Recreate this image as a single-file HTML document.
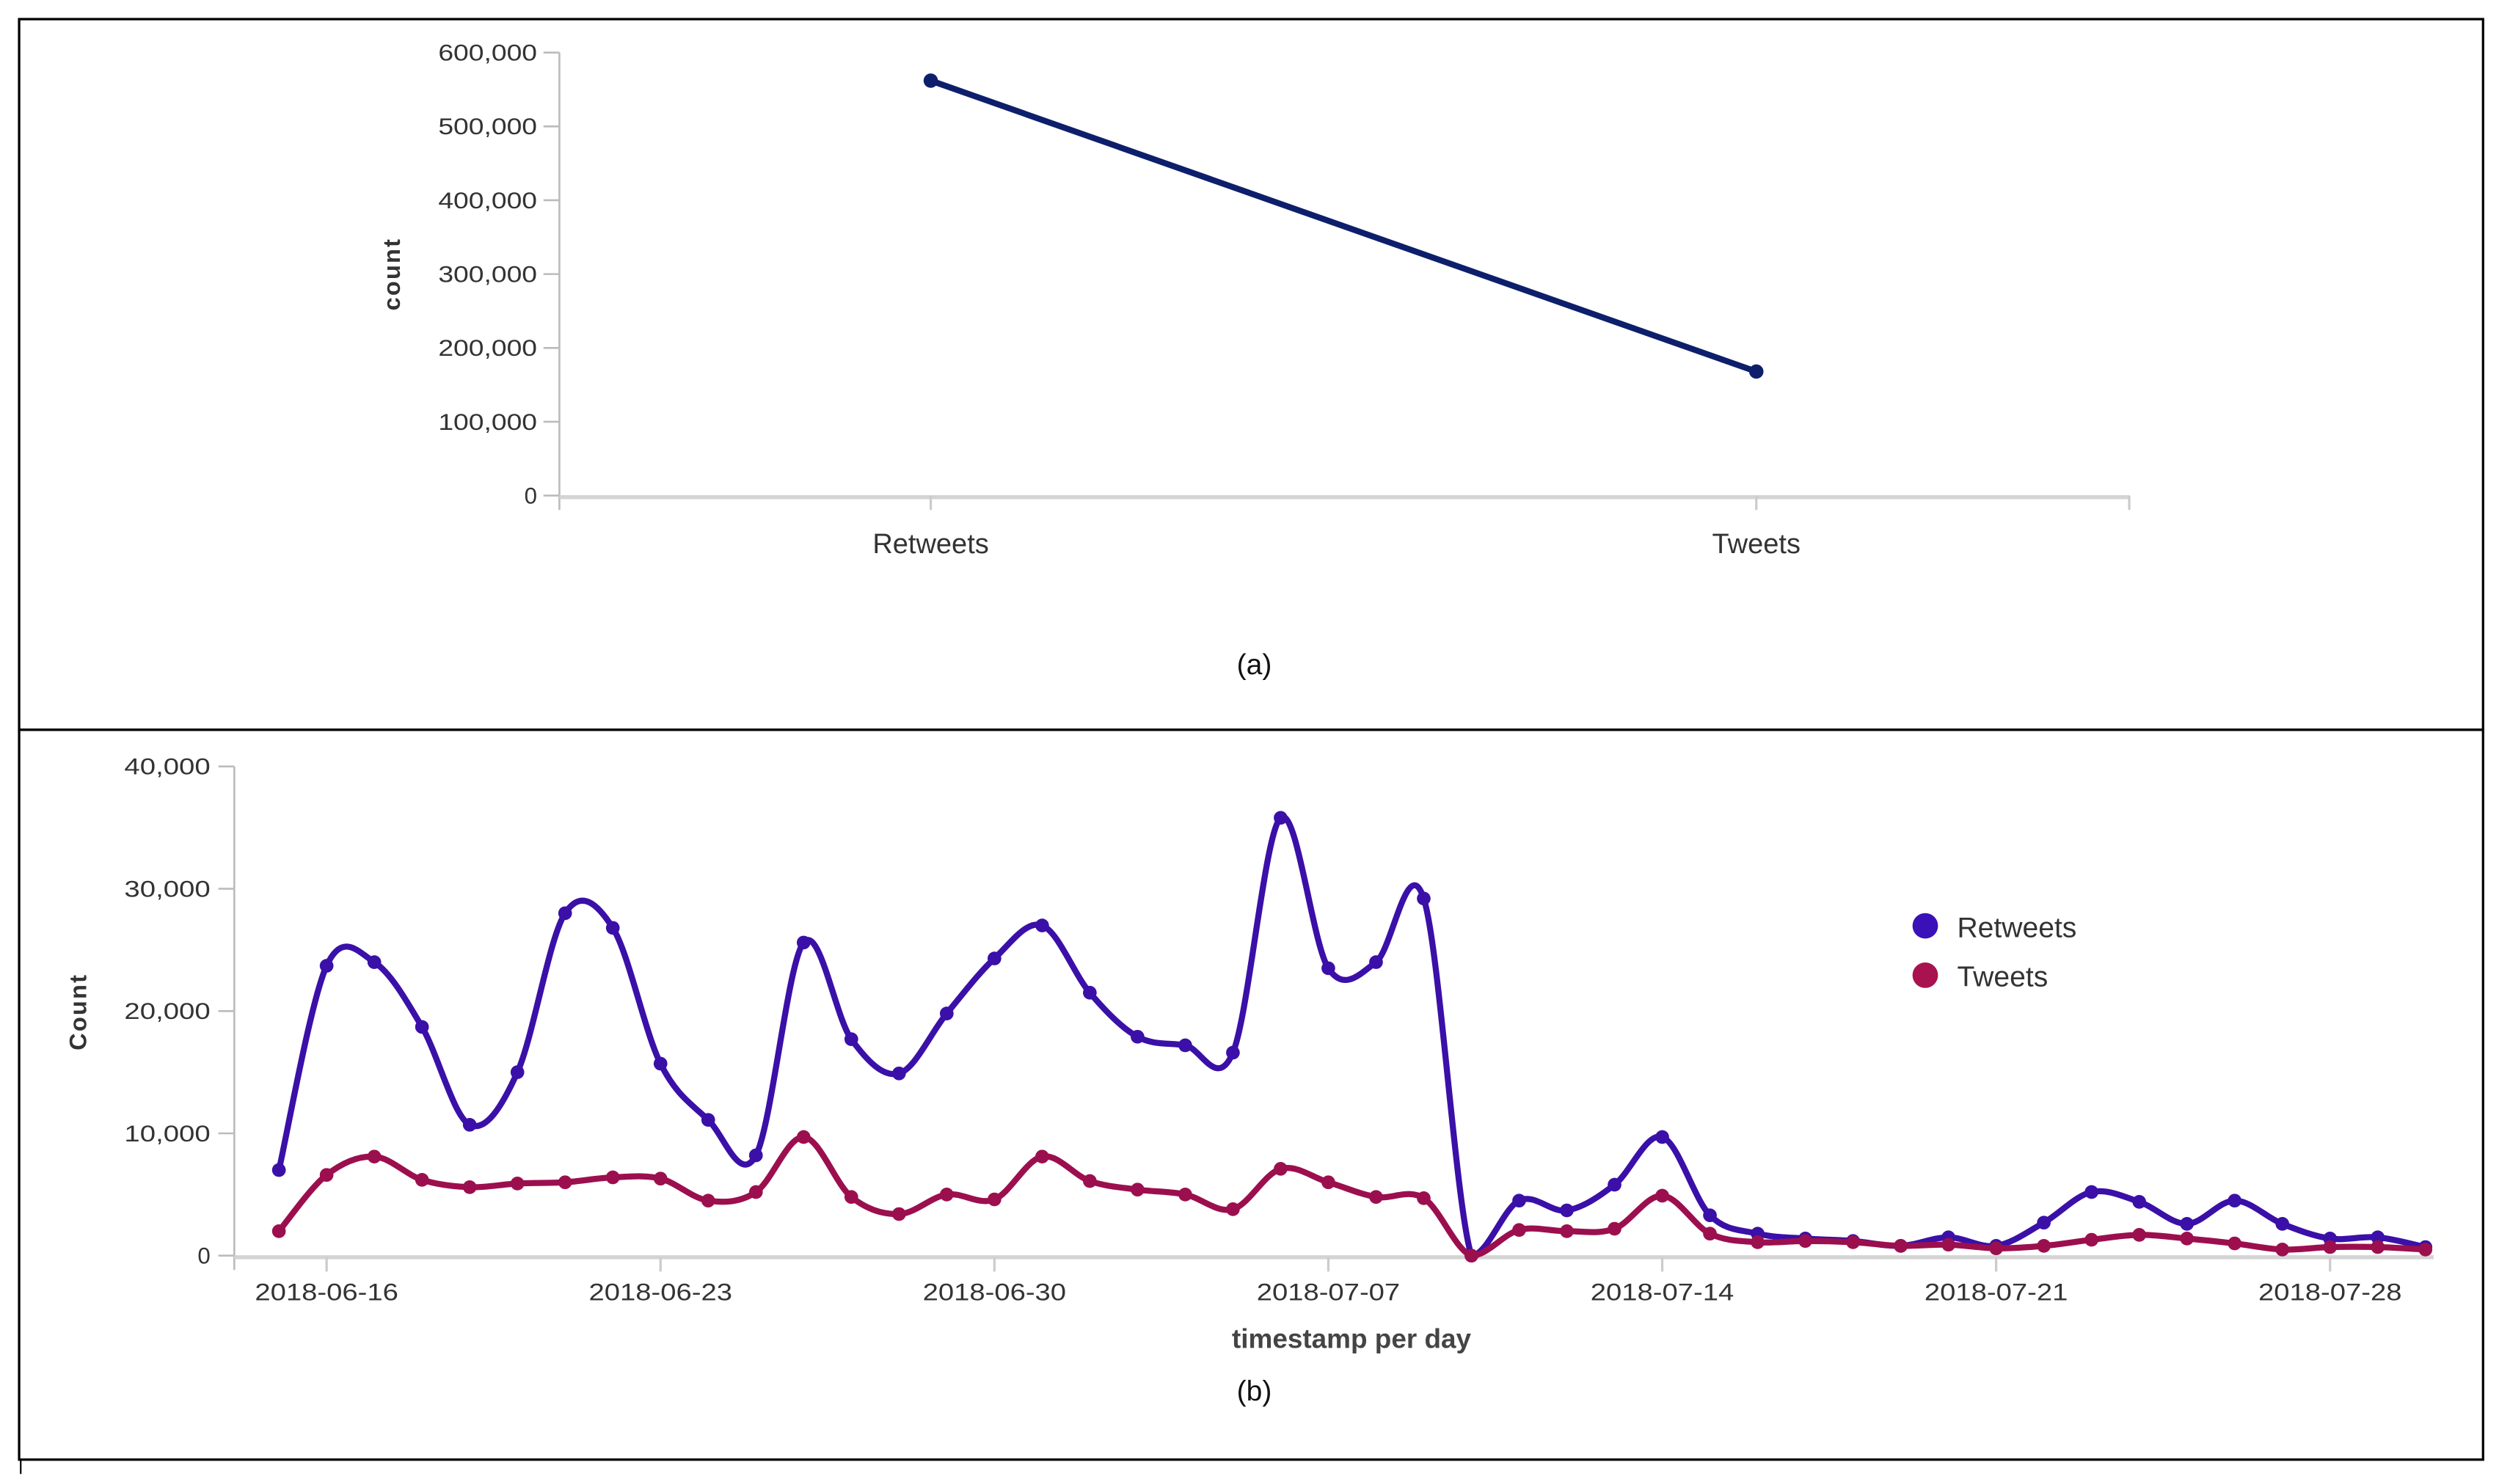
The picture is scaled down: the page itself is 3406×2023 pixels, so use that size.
<!DOCTYPE html>
<html><head><meta charset="utf-8"><style>
html,body{margin:0;padding:0;background:#fff;}
svg{display:block;}
text{font-family:"Liberation Sans",sans-serif;}
</style></head><body>
<svg id="fig" width="3406" height="2023" viewBox="0 0 1568 931.3" preserveAspectRatio="none" xmlns="http://www.w3.org/2000/svg">
<rect x="12" y="12" width="1546" height="446" fill="none" stroke="#000" stroke-width="1.5"/>
<rect x="12" y="458" width="1546" height="458" fill="none" stroke="#000" stroke-width="1.5"/>
<line x1="13" y1="916" x2="13" y2="925" stroke="#000" stroke-width="1"/>
<g id="ca"></g>
<g id="cb"></g>
</svg>
<script>
// Chart A data
const aCategories = ["Retweets","Tweets"];
const aValues = [562000, 168000];
const aTicks = [0,100000,200000,300000,400000,500000,600000];
// Chart B data
const bStart = "2018-06-15";
const retweets = [7000,23700,24000,18700,10700,15000,28000,26800,15700,11100,8200,25600,17700,14900,19800,24300,27000,21500,17900,17200,16600,35800,23500,24000,29200,0,4500,3700,5800,9700,3300,1800,1400,1200,800,1500,800,2700,5200,4400,2600,4500,2600,1400,1500,700];
const tweets = [2000,6600,8100,6200,5600,5900,6000,6400,6300,4500,5200,9700,4800,3400,5000,4600,8100,6100,5400,5000,3800,7100,6000,4800,4700,0,2100,2000,2200,4900,1800,1100,1200,1100,800,900,600,800,1300,1700,1400,1000,500,700,700,500];
const bTicks = [0,10000,20000,30000,40000];
const bXTicks = ["2018-06-16","2018-06-23","2018-06-30","2018-07-07","2018-07-14","2018-07-21","2018-07-28"];

const NS="http://www.w3.org/2000/svg";
function mk(parent,tag,attrs,txt){const e=document.createElementNS(NS,tag);for(const k in attrs)e.setAttribute(k,attrs[k]);if(txt!==undefined)e.textContent=txt;parent.appendChild(e);return e;}
const fmt=v=>v.toLocaleString("en-US");

// ---- Chart A ----
const ca=document.getElementById('ca');
const ayA=v=>311-v/600000*278;
const axA=i=>584+i*518;
let e;
e=mk(ca,'line',{x1:351,y1:33,x2:351,y2:320,stroke:'#bbb','stroke-width':1.2});

e=mk(ca,'line',{x1:351,y1:312,x2:1336,y2:312,stroke:'#d4d4d4','stroke-width':2.5});

mk(ca,'line',{x1:1336,y1:311,x2:1336,y2:320,stroke:'#ccc','stroke-width':1.5});
aTicks.forEach(t=>{const y=ayA(t);
 mk(ca,'line',{x1:341,y1:y,x2:351,y2:y,stroke:'#bbb','stroke-width':1.2});
 e=mk(ca,'text',{x:337,y:y+5,'text-anchor':'end','font-size':14.5,fill:'#333','textLength':fmt(t).length>1?62:8,'lengthAdjust':'spacingAndGlyphs'},fmt(t));
 });
aCategories.forEach((c,i)=>{const x=axA(i);
 mk(ca,'line',{x1:x,y1:311,x2:x,y2:320,stroke:'#ccc','stroke-width':1.5});
 e=mk(ca,'text',{x:x,y:347,'text-anchor':'middle','font-size':17.5,fill:'#333'},c);
 });
e=mk(ca,'text',{x:0,y:0,transform:'translate(251,172) rotate(-90)','text-anchor':'middle','font-size':15,'font-weight':'bold',fill:'#333','letter-spacing':'1'},'count');

e=mk(ca,'polyline',{points:aValues.map((v,i)=>axA(i)+','+ayA(v)).join(' '),fill:'none',stroke:'#0d1f6b','stroke-width':3.8});

aValues.forEach((v,i)=>{e=mk(ca,'circle',{cx:axA(i),cy:ayA(v),r:4.5,fill:'#0d1f6b'});
 });
e=mk(ca,'text',{x:787,y:423,'text-anchor':'middle','font-size':18,fill:'#111'},'(a)');


// ---- Chart B ----
const cb=document.getElementById('cb');
const t0=Date.parse(bStart+"T00:00:00Z");
const dayIdx=s=>(Date.parse(s+"T00:00:00Z")-t0)/86400000;
const axB=i=>175+i*29.93;
const ayB=v=>788-v/40000*307;
e=mk(cb,'line',{x1:147,y1:481,x2:147,y2:797,stroke:'#bbb','stroke-width':1.2});

e=mk(cb,'line',{x1:147,y1:789,x2:1527,y2:789,stroke:'#d4d4d4','stroke-width':2.5});

bTicks.forEach(t=>{const y=ayB(t);
 mk(cb,'line',{x1:137,y1:y,x2:147,y2:y,stroke:'#bbb','stroke-width':1.2});
 e=mk(cb,'text',{x:132,y:y+5,'text-anchor':'end','font-size':14.5,fill:'#333','textLength':t?54:8,'lengthAdjust':'spacingAndGlyphs'},fmt(t));
 });
bXTicks.forEach(s=>{const x=axB(dayIdx(s));
 mk(cb,'line',{x1:x,y1:789,x2:x,y2:798,stroke:'#ccc','stroke-width':1.5});
 e=mk(cb,'text',{x:x,y:816,'text-anchor':'middle','font-size':15,fill:'#333','textLength':90,'lengthAdjust':'spacingAndGlyphs'},s);
 });
e=mk(cb,'text',{x:0,y:0,transform:'translate(54,635) rotate(-90)','text-anchor':'middle','font-size':15,'font-weight':'bold',fill:'#333','letter-spacing':'1'},'Count');

e=mk(cb,'text',{x:848,y:846,'text-anchor':'middle','font-size':17,'font-weight':'bold',fill:'#444'},'timestamp per day');

e=mk(cb,'text',{x:787,y:879,'text-anchor':'middle','font-size':18,fill:'#111'},'(b)');


function smoothPath(vals){
 const p=vals.map((v,i)=>[axB(i),ayB(v)]);
 const base=ayB(0);
 const cl=y=>Math.min(y,base);
 let d='M'+p[0][0]+','+p[0][1];
 for(let i=0;i<p.length-1;i++){
  const p0=p[i-1]||p[i],p1=p[i],p2=p[i+1],p3=p[i+2]||p[i+1];
  const c1=[p1[0]+(p2[0]-p0[0])/6,cl(p1[1]+(p2[1]-p0[1])/6)];
  const c2=[p2[0]-(p3[0]-p1[0])/6,cl(p2[1]-(p3[1]-p1[1])/6)];
  d+=' C'+c1[0]+','+c1[1]+' '+c2[0]+','+c2[1]+' '+p2[0]+','+p2[1];
 }
 return d;
}
const series=[["retweets",retweets,"#3a10a8"],["tweets",tweets,"#9c0f4e"]];
series.forEach(([nm,vals,col])=>{
 e=mk(cb,'path',{d:smoothPath(vals),fill:'none',stroke:col,'stroke-width':3.8,'stroke-linejoin':'round'});
 
 vals.forEach((v,i)=>{e=mk(cb,'circle',{cx:axB(i),cy:ayB(v),r:4.3,fill:col});
  });
});
[["Retweets","#3a10b8",581],["Tweets","#a8124f",612]].forEach(([t,c,y])=>{
 e=mk(cb,'circle',{cx:1208,cy:y,r:8,fill:c});
 
 e=mk(cb,'text',{x:1228,y:y+7,'font-size':18,fill:'#333'},t);
 
});
</script>
</body></html>
